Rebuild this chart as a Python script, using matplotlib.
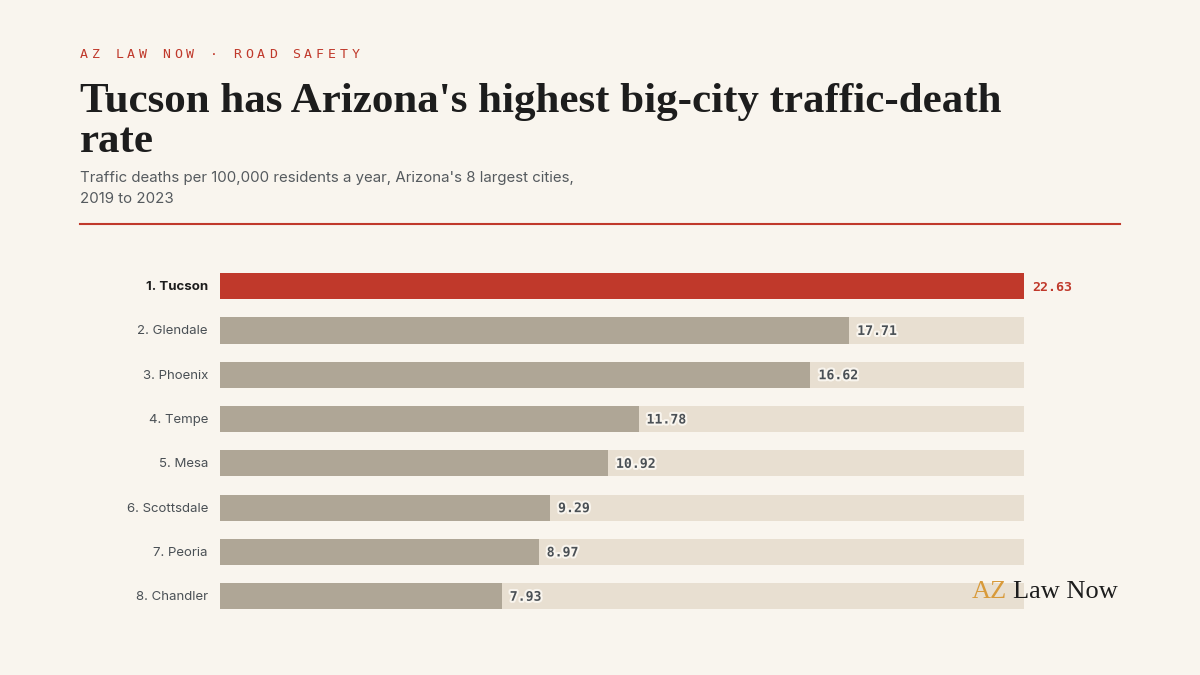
import matplotlib.pyplot as plt
import matplotlib.patheffects as pe

# data
cities = ["Tucson", "Glendale", "Phoenix", "Tempe", "Mesa", "Scottsdale", "Peoria", "Chandler"]
rates = [22.63, 17.71, 16.62, 11.78, 10.92, 9.29, 8.97, 7.93]

kicker = "AZ LAW NOW · ROAD SAFETY"
title_lines = ["Tucson has Arizona's highest big-city traffic-death", "rate"]
subtitle_lines = ["Traffic deaths per 100,000 residents a year, Arizona's 8 largest cities,",
                  "2019 to 2023"]

BG = "#f9f5ee"
RED = "#c0392b"
BAR = "#afa696"
TRACK = "#e8dfd1"
LABEL = "#4a5055"

W, H = 1200, 675


def px(x, y):
    return x / W, 1 - y / H


fig = plt.figure(figsize=(12, 6.75), dpi=100, facecolor=BG)

# kicker, letter spaced mono
for i, ch in enumerate(kicker):
    fig.text(*px(80 + i * 11.8, 58), ch, fontsize=9.5, family="DejaVu Sans Mono",
             color=RED, va="baseline", ha="left")

for k, line in enumerate(title_lines):
    fig.text(*px(80, 112 + k * 40), line, fontsize=31, family="Liberation Serif",
             weight="bold", color="#1d1d1d", va="baseline", ha="left")
for k, line in enumerate(subtitle_lines):
    fig.text(*px(80, 182 + k * 20.5), line, fontsize=10.8, family="Inter",
             color="#555a5e", va="baseline", ha="left")

fig.add_artist(plt.Line2D([80 / W, 1120 / W], [1 - 223.5 / H] * 2, color=RED, lw=1.5))

# bars
ax_top, ax_bot = 264, 618.4
ax = fig.add_axes([220 / W, 1 - ax_bot / H, 804 / W, (ax_bot - ax_top) / H])
ax.set_facecolor("none")
n = len(cities)
ypos = list(range(n))
vmax = max(rates)
ax.barh(ypos, [vmax] * n, height=0.59, color=TRACK, zorder=1)
colors = [RED] + [BAR] * (n - 1)
ax.barh(ypos, rates, height=0.59, color=colors, zorder=2)
ax.set_xlim(0, vmax)
ax.set_ylim(n - 0.5, -0.5)
ax.axis("off")

halo = [pe.withStroke(linewidth=3, foreground=BG)]
for i, (c, v) in enumerate(zip(cities, rates)):
    top = i == 0
    ax.annotate(f"{i + 1}. {c}", (0, i), xytext=(-12, -1), textcoords="offset pixels",
                ha="right", va="center", fontsize=9.5, family="Inter",
                weight="bold" if top else "normal",
                color="#1d1d1d" if top else LABEL)
    ax.annotate(f"{v:.2f}", (v, i), xytext=(8, -1), textcoords="offset pixels",
                ha="left", va="center", fontsize=9.5, family="DejaVu Sans Mono",
                weight="bold", color=RED if top else LABEL,
                path_effects=None if top else halo, zorder=5)

# logo
fig.text(*px(972, 598), "AZ", fontsize=19, family="Liberation Serif", color="#d89a3a",
         va="baseline", ha="left")
fig.text(*px(1013, 598), "Law Now", fontsize=19, family="Liberation Serif", color="#1d1d1d",
         va="baseline", ha="left")

fig.savefig("out.png", dpi=100, facecolor=BG)
